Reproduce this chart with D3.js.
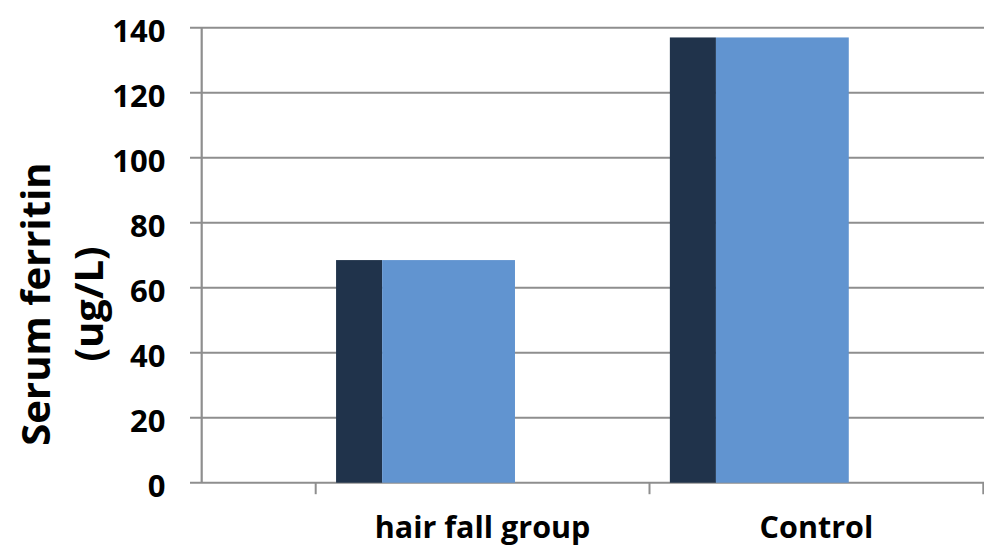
<!DOCTYPE html>
<html>
<head>
<meta charset="utf-8">
<script src="https://cdn.jsdelivr.net/npm/d3@7"></script>
<style>
  html, body { margin: 0; padding: 0; background: #fff; }
  svg { display: block; }
  text { font-family: "Open Sans", "DejaVu Sans", sans-serif; font-weight: bold; fill: #000; }
</style>
</head>
<body>
<svg id="chart" width="984" height="548"></svg>
<script>
// Serum ferritin by group
const categories = ["hair fall group", "Control"];
const ferritin = [68.5, 137];
const yTicks = [0, 20, 40, 60, 80, 100, 120, 140];
const yTitle = ["Serum ferritin", "(ug/L)"];

const W = 984, H = 548;
const svg = d3.select("#chart");

const axisX = 201.7;          // vertical value axis
const plotRight = 983.3;
const y = d3.scaleLinear().domain([0, 140]).range([482.7, 27.7]);
const x = d3.scaleBand().domain(categories).range([315.7, plotRight]).padding(0);
const bw = x.bandwidth();

const gridColor = "#8e8e8e";

// Horizontal gridlines (with outward tick stubs)
svg.append("g").selectAll("line").data(yTicks).join("line")
  .attr("x1", axisX - 11.7).attr("x2", W)
  .attr("y1", d => y(d)).attr("y2", d => y(d))
  .attr("stroke", gridColor).attr("stroke-width", 2);

// Value axis line
svg.append("line")
  .attr("x1", axisX).attr("x2", axisX)
  .attr("y1", y(140)).attr("y2", y(0))
  .attr("stroke", gridColor).attr("stroke-width", 2.2);

// Category tick marks
const catEdges = categories.map(c => x(c)).concat([x(categories[categories.length - 1]) + bw]);
svg.append("g").selectAll("line").data(catEdges).join("line")
  .attr("x1", d => d).attr("x2", d => d)
  .attr("y1", y(0)).attr("y2", y(0) + 11.5)
  .attr("stroke", gridColor).attr("stroke-width", 2);

// Columns: shaded side face + front face
const bars = svg.append("g").selectAll("g").data(categories).join("g");
bars.append("rect")
  .attr("x", c => x(c) + bw * 0.061)
  .attr("width", bw * 0.138)
  .attr("y", (c, i) => y(ferritin[i]))
  .attr("height", (c, i) => y(0) - y(ferritin[i]))
  .attr("fill", "#20334b");
bars.append("rect")
  .attr("x", c => x(c) + bw * 0.199)
  .attr("width", bw * 0.398)
  .attr("y", (c, i) => y(ferritin[i]))
  .attr("height", (c, i) => y(0) - y(ferritin[i]))
  .attr("fill", "#6194d0");

// Tick labels
svg.append("g").selectAll("text").data(yTicks).join("text")
  .attr("x", 165.5)
  .attr("y", d => y(d) + 2)
  .attr("text-anchor", "end")
  .attr("dominant-baseline", "central")
  .attr("font-size", 31)
  .text(d => d);

// Category labels
svg.append("g").selectAll("text").data(categories).join("text")
  .attr("x", c => x(c) + bw / 2)
  .attr("y", 538)
  .attr("text-anchor", "middle")
  .attr("font-size", 30.5)
  .text(c => c);

// Axis title
const title = svg.append("text")
  .attr("transform", "translate(50,304) rotate(-90)")
  .attr("text-anchor", "middle")
  .attr("font-size", 40);
title.append("tspan").attr("x", 0).attr("y", 0).text(yTitle[0]);
title.append("tspan").attr("x", 0).attr("y", 53).text(yTitle[1]);
</script>
</body>
</html>
